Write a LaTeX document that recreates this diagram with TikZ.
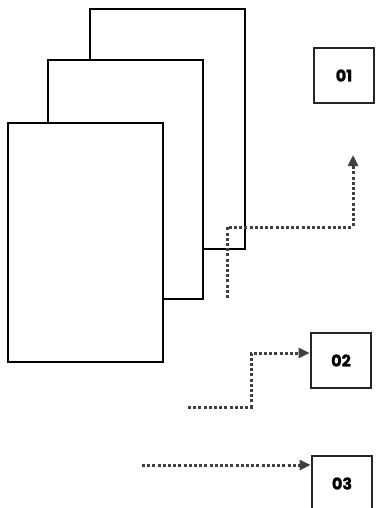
\documentclass[tikz,border=0pt]{standalone}
\usepackage{fontspec}
\newfontfamily\boxfont{Poppins}[BoldFont={Poppins Bold}, BoldFeatures={FakeBold=1.5}]
\usetikzlibrary{arrows.meta,positioning}

\begin{document}
\begin{tikzpicture}[
  x=1pt, y=-1pt,
  sheet/.style={draw=black, fill=white, line width=2pt, minimum width=155pt, minimum height=239pt, inner sep=0pt},
  outbox/.style={draw=black!85, line width=2.8pt, minimum width=60pt, minimum height=55pt, font=\boxfont\bfseries\fontsize{16}{16}\selectfont},
  flow/.style={-{Triangle[length=11pt, width=10pt]}, dash pattern=on 3pt off 2.2pt, line width=3pt, draw=black!75},
]
\useasboundingbox (0,0) rectangle (377,508);

% stacked sheets, back to front
\node[sheet] (back)  at (167,129) {};
\node[sheet] (mid)   at (125,179.5) {};
\node[sheet] (front) at (85,242) {};

% output boxes
\node[outbox] (o1) at (344,75.5) {01};
\node[outbox] (o2) at (341,360.5) {02};
\node[outbox] (o3) at (342,483.5) {03};

% connector ends
\coordinate (s1) at (227,298);
\coordinate (m1) at (353,227);
\coordinate (t1) at (353,155);
\coordinate (s2) at (188,407);
\coordinate (m2) at (251,353);
\coordinate (s3) at (142,465);

\draw[flow] (s1) |- (m1) -- (t1);
\draw[flow] (s2) -| (m2) -- (o2.west |- m2);
\draw[flow] (s3) -- (o3.west |- s3);

\end{tikzpicture}
\end{document}
